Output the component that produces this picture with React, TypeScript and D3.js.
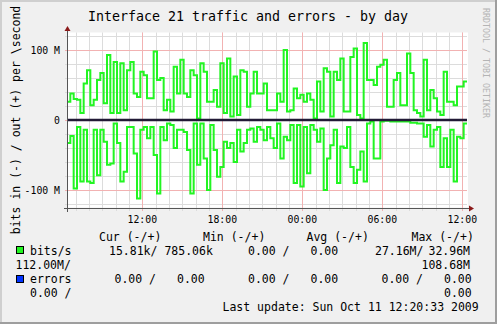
import React from "react";
import * as d3 from "d3";

// ---- data (values in Mbit/s) ----
const startTime = new Date(2009, 9, 10, 6, 21, 0);
const endTime = new Date(2009, 9, 11, 12, 21, 0);
const stepMinutes = 15;

const outValues = [
  26, 38, 30, 29, 10, 52, 71, 21, 29, 57,
  67, 24, 93, 10, 83, 10, 81, 14, 71, 83,
  38, 33, 69, 64, 31, 31, 98, 57, 60, 14,
  29, 12, 76, 38, 86, 38, 33, 71, 64, 2,
  81, 69, 26, 26, 43, 19, 81, 10, 88, 5,
  62, 7, 71, 69, 19, 38, 69, 38, 38, 52,
  14, 14, 14, 38, 26, 100, 12, 14, 45, 31,
  36, 26, 38, 29, 2, 55, 12, 74, 69, 5,
  69, 57, 88, 12, 12, 90, 102, 7, 2, 110,
  57, 57, 50, 76, 79, 86, 19, 19, 57, 67,
  21, 21, 95, 67, 14, 10, 5, 86, 14, 43,
  31, 12, 7, 69, 26, 26, 21, 48, 48, 55,
];

const inValues = [
  -33, -23, -98, -10, -88, -14, -88, -90, -14, -79,
  -14, -31, -64, -62, -5, -33, -88, -74, -10, -10,
  -48, -112, -14, -10, -26, -10, -50, -105, -10, -29,
  -5, -7, -40, -14, -14, -17, -43, -105, -5, -64,
  -5, -55, -100, -7, -43, -81, -67, -31, -40, -33,
  -60, -14, -45, -33, -14, -12, -31, -10, -14, -29,
  -10, -26, -40, -5, -55, -24, -29, -7, -90, -7,
  -95, -10, -76, -7, -14, -31, -12, -100, -55, -36,
  -14, -90, -38, -40, -10, -67, -90, -71, -45, -88,
  -5, -2, -55, -55, -2, -1, -1, -2, -2, -2,
  -2, -2, -2, -4, -4, -5, -5, -24, -7, -38,
  -14, -10, -67, -26, -67, -14, -88, -24, -26, -5,
];

const yMajorTicks = [-100, 0, 100];
const yMajorLabels = ["-100 M", "0", "100 M"];
const yMinorTicks = [-120, -80, -60, -40, -20, 20, 40, 60, 80, 120];

const title = "Interface 21 traffic and errors - by day";
const yLabel = "bits in (-) / out (+) per \\second";
const watermark = "RRDTOOL / TOBI OETIKER";
const legendHeaders = ["Cur (-/+)", "Min (-/+)", "Avg (-/+)", "Max (-/+)"];
const lastUpdate = "Last update: Sun Oct 11 12:20:33 2009";

const MONO = "DejaVu Sans Mono, monospace";
const GREEN = "#22f522";

export default function App() {
  const W = 497, H = 324;
  const x0 = 67, x1 = 467, yTop = 32.5, yBot = 207.5;
  const x = d3.scaleTime().domain([startTime, endTime]).range([x0, x1]);
  const y = d3.scaleLinear().domain([-125, 125]).range([yBot, yTop]);

  const t = (i: number) => new Date(startTime.getTime() + i * stepMinutes * 60000);
  const mk = (vals: number[]) => {
    const pts: [Date, number][] = vals.map((v, i) => [t(i), v]);
    pts.push([endTime, vals[vals.length - 1]]);
    return d3
      .line<[Date, number]>()
      .x((d) => x(d[0]))
      .y((d) => y(d[1]))
      .curve(d3.curveStepAfter)(pts) as string;
  };

  const hours = d3.timeHour.every(1)!.range(startTime, endTime);
  const majors = d3.timeHour.every(6)!.range(startTime, endTime);
  const fmt = d3.timeFormat("%H:%M");
  const axisY = 208;

  const txt = (s: string, xx: number, yy: number, extra: any = {}) => (
    <text x={xx} y={yy} fontFamily={MONO} fontSize={11.5} fill="#000" style={{ whiteSpace: "pre" }} {...extra}>
      {s}
    </text>
  );

  return (
    <svg width={W} height={H} style={{ position: "absolute", left: 0, top: 0 }}>
      <rect x={0} y={0} width={W} height={H} fill="#f0f0f0" />
      {/* frame */}
      <line x1={0} y1={1} x2={W} y2={1} stroke="#cfcfcf" strokeWidth={2} />
      <line x1={1} y1={0} x2={1} y2={H} stroke="#cfcfcf" strokeWidth={2} />
      <line x1={0} y1={H - 1} x2={W} y2={H - 1} stroke="#9e9e9e" strokeWidth={2} />
      <line x1={W - 1} y1={0} x2={W - 1} y2={H} stroke="#9e9e9e" strokeWidth={2} />

      {/* canvas */}
      <rect x={x0} y={yTop} width={x1 - x0 + 1} height={yBot - yTop} fill="#ffffff" />

      {/* minor grid */}
      {hours.map((h, i) => (
        <line key={"vh" + i} x1={Math.round(x(h)) + 0.5} x2={Math.round(x(h)) + 0.5} y1={yTop} y2={axisY + 3} stroke="#dcdcdc" strokeWidth={1} />
      ))}
      {yMinorTicks.map((v, i) => (
        <line key={"hm" + i} x1={x0 - 2} x2={x1} y1={Math.round(y(v)) + 0.5} y2={Math.round(y(v)) + 0.5} stroke="#dcdcdc" strokeWidth={1} />
      ))}
      {/* major grid */}
      {majors.map((h, i) => (
        <line key={"vM" + i} x1={Math.round(x(h)) + 0.5} x2={Math.round(x(h)) + 0.5} y1={yTop} y2={axisY + 3} stroke="#f2b2b2" strokeWidth={1} />
      ))}
      {yMajorTicks.map((v, i) => (
        <line key={"hM" + i} x1={x0 - 2} x2={x1} y1={Math.round(y(v)) + 0.5} y2={Math.round(y(v)) + 0.5} stroke="#f2b2b2" strokeWidth={1} />
      ))}

      {/* data */}
      <path d={mk(outValues)} fill="none" stroke={GREEN} strokeWidth={2} />
      <path d={mk(inValues)} fill="none" stroke={GREEN} strokeWidth={2} />

      {/* zero rule */}
      <line x1={x0} x2={x1} y1={y(0)} y2={y(0)} stroke="#221a36" strokeWidth={2.6} />

      {/* axes */}
      <line x1={x0 - 3} x2={x1 + 3} y1={axisY + 0.5} y2={axisY + 0.5} stroke="#555" strokeWidth={1} />
      <line x1={x0 + 0.5} x2={x0 + 0.5} y1={axisY + 4} y2={29} stroke="#555" strokeWidth={1} />
      <path d={`M${x0 + 0.5 - 3},${31} L${x0 + 0.5},${26} L${x0 + 0.5 + 3},${31} Z`} fill="#8b1a1a" />
      <path d={`M${x1 + 2},${axisY + 0.5 - 3} L${x1 + 7},${axisY + 0.5} L${x1 + 2},${axisY + 0.5 + 3} Z`} fill="#8b1a1a" />

      {/* axis labels */}
      {majors.map((h, i) => (
        <text key={"xl" + i} x={x(h)} y={223} textAnchor="middle" fontFamily={MONO} fontSize={9.8} fill="#000">
          {fmt(h)}
        </text>
      ))}
      {yMajorTicks.map((v, i) => (
        <text key={"yl" + i} x={60} y={y(v) + 3.5} textAnchor="end" fontFamily={MONO} fontSize={9.8} fill="#000" style={{ whiteSpace: "pre" }}>
          {yMajorLabels[i]}
        </text>
      ))}

      {/* title */}
      <text x={248} y={20.5} textAnchor="middle" fontFamily={MONO} fontSize={13.3} fill="#000">
        {title}
      </text>
      {/* y label */}
      <text transform="translate(19.5,120) rotate(-90)" textAnchor="middle" fontFamily={MONO} fontSize={11.5} fill="#000">
        {yLabel}
      </text>
      {/* watermark */}
      <text transform="translate(482.5,8) rotate(90)" fontFamily={MONO} fontSize={8.3} fill="#b4b4b4">
        {watermark}
      </text>

      {/* legend */}
      {txt(legendHeaders[0], 99, 241)}
      {txt(legendHeaders[1], 203, 241)}
      {txt(legendHeaders[2], 306.5, 241)}
      {txt(legendHeaders[3], 411.5, 241)}

      <rect x={16.5} y={246.5} width={7} height={7} fill={GREEN} stroke="#000" strokeWidth={1} />
      {txt("bits/s", 30, 255)}
      {txt("15.81k/ 785.06k", 109, 255)}
      {txt("0.00 /", 248, 255)}
      {txt("0.00", 310.5, 255)}
      {txt("27.16M/", 375, 255)}
      {txt("32.96M", 428.5, 255)}
      {txt("112.00M/", 15.5, 269)}
      {txt("108.68M", 421.5, 269)}

      <rect x={16.5} y={275.5} width={7} height={7} fill="#0033ff" stroke="#000" strokeWidth={1} />
      {txt("errors", 30, 283)}
      {txt("0.00 /", 114.5, 283)}
      {txt("0.00", 177, 283)}
      {txt("0.00 /", 248, 283)}
      {txt("0.00", 310.5, 283)}
      {txt("0.00 /", 381.5, 283)}
      {txt("0.00", 444, 283)}
      {txt("0.00 /", 30, 297)}
      {txt("0.00", 444, 297)}

      {txt(lastUpdate, 222.5, 311)}
    </svg>
  );
}
